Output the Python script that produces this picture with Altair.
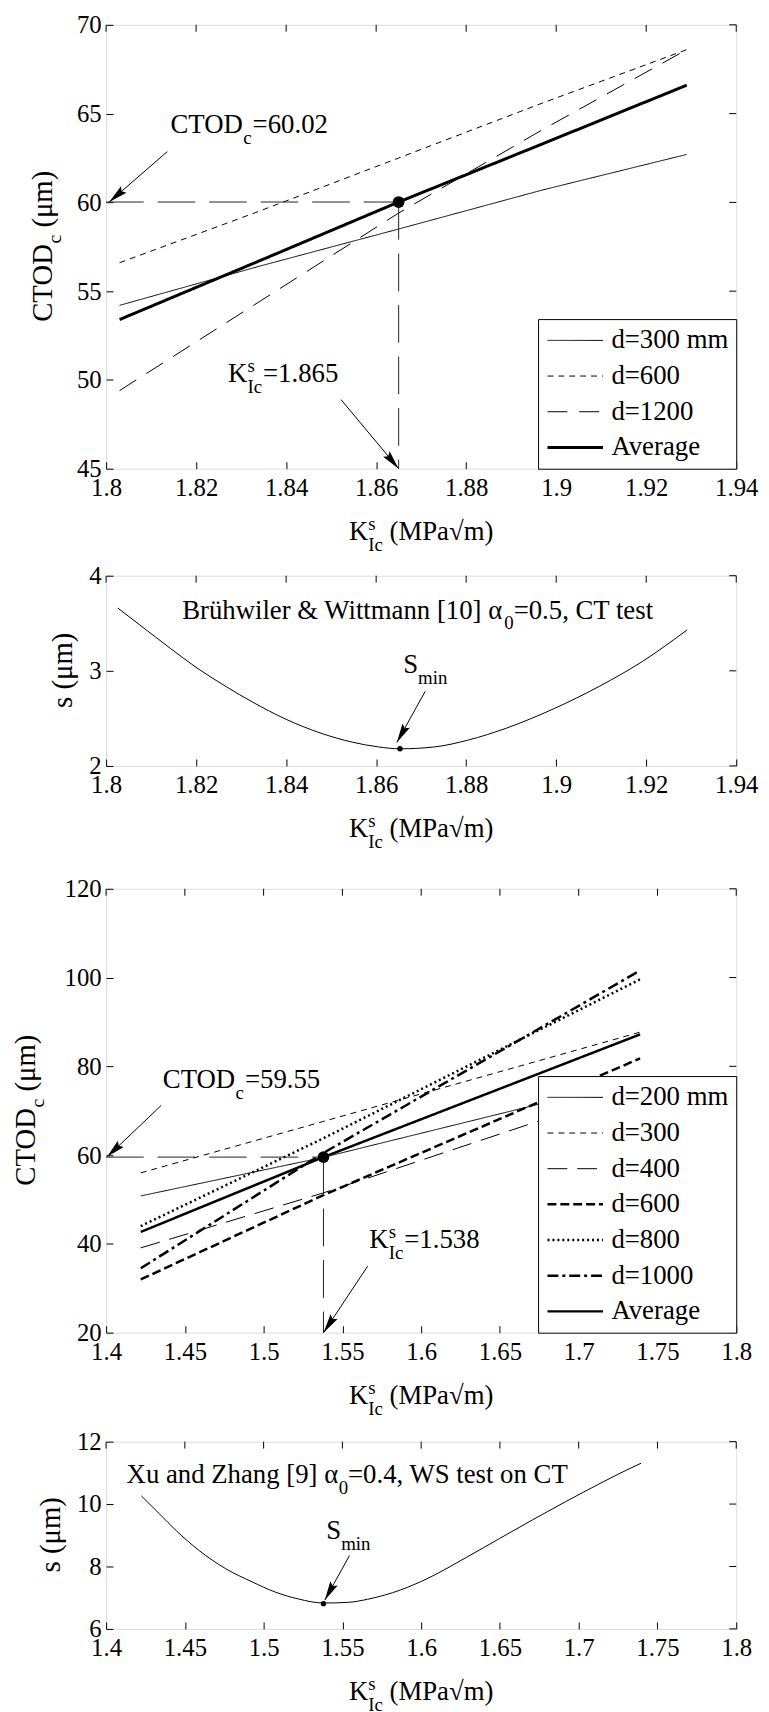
import math
import altair as alt
import pandas as pd

FONT = "Liberation Serif"
TICK_FS = 25
TXT_FS = 27
SUB_FS = 19
YT_FS = 29

W = 636
H1, H2, H3, H4 = 448, 192, 448, 189
LEFT, RIGHT, BOTTOM = 98, 24, 88
TOPS = [8, 18, 34, 20]

# ---------------- data ----------------
P1_XDOM = [1.8, 1.94]
P1_YDOM = [45, 70]
P1_XTICKS = [1.8, 1.82, 1.84, 1.86, 1.88, 1.9, 1.92, 1.94]
P1_YTICKS = [45, 50, 55, 60, 65, 70]
P1_K = [1.803, 1.834, 1.865, 1.897, 1.929]
P1_D300 = [54.2, 56.4, 58.5, 60.7, 62.7]
P1_D600 = [56.6, 59.5, 62.5, 65.6, 68.6]
P1_D1200 = [49.4, 54.4, 59.4, 64.1, 68.6]
P1_AVG = [53.4, 56.7, 60.02, 63.3, 66.6]
P1_SERIES = ["d=300 mm", "d=600", "d=1200", "Average"]
P1_KIC = 1.865
P1_CTODC = 60.02

P2_YDOM = [2, 4]
P2_YTICKS = [2, 3, 4]
P2_K = [1.8026, 1.8092, 1.8143, 1.8202, 1.8268, 1.8326, 1.8400, 1.8480, 1.8547,
        1.8605, 1.8653, 1.8730, 1.8803, 1.8891, 1.8994, 1.9097, 1.9192, 1.9291]
P2_S = [3.66, 3.42, 3.235, 3.03, 2.83, 2.67, 2.49, 2.34, 2.25,
        2.20, 2.18, 2.20, 2.27, 2.40, 2.60, 2.84, 3.10, 3.43]
P2_KMIN = 1.8653
P2_SMIN = 2.18

P3_XDOM = [1.4, 1.8]
P3_YDOM = [20, 120]
P3_XTICKS = [1.4, 1.45, 1.5, 1.55, 1.6, 1.65, 1.7, 1.75, 1.8]
P3_YTICKS = [20, 40, 60, 80, 100, 120]
P3_K = [1.422, 1.538, 1.739]
P3_D200 = [50.8, 59.5, 77.1]
P3_D300 = [56.0, 67.6, 87.7]
P3_D400 = [39.1, 51.5, 75.3]
P3_D600 = [32.0, 51.0, 81.8]
P3_D800 = [44.0, 63.8, 99.6]
P3_D1000 = [34.5, 60.5, 101.6]
P3_AVG = [42.7, 59.55, 87.2]
P3_SERIES = ["d=200 mm", "d=300", "d=400", "d=600", "d=800", "d=1000", "Average"]
P3_KIC = 1.538
P3_CTODC = 59.55

P4_YDOM = [6, 12]
P4_YTICKS = [6, 8, 10, 12]
P4_K = [1.4224, 1.434, 1.4445, 1.4591, 1.4759, 1.4926, 1.5074, 1.522, 1.538, 1.5535,
        1.566, 1.587, 1.6038, 1.629, 1.6499, 1.6709, 1.6918, 1.7128, 1.7296, 1.7396]
P4_S = [10.26, 9.68, 9.15, 8.51, 7.93, 7.51, 7.18, 6.96, 6.83, 6.85,
        6.95, 7.25, 7.61, 8.30, 8.90, 9.50, 10.08, 10.64, 11.07, 11.31]
P4_KMIN = 1.538
P4_SMIN = 6.81

# styles
P1_DASH = [[1, 0], [6, 5], [20, 12], [1, 0]]
P1_WIDTH = [1, 1, 1, 3]
P3_DASH = [[1, 0], [6, 5], [20, 10], [9, 4], [2, 3], [11, 4, 3, 4], [1, 0]]
P3_WIDTH = [1, 1, 1, 2.5, 2.5, 2.5, 2.5]
HELPER_DASH = [38, 14]
ARROW = "M0,0L-0.22,1L0,0.85L0.22,1Z"

ONE = pd.DataFrame({"one": [1]})

CW = {'A': .722, 'B': .667, 'C': .667, 'D': .722, 'I': .333, 'K': .722, 'M': .889, 'O': .722,
      'P': .556, 'S': .556, 'T': .611, 'W': .944, 'X': .722, 'Z': .611,
      'a': .444, 'c': .444, 'd': .5, 'e': .444, 'g': .5, 'h': .5, 'i': .278, 'l': .278,
      'm': .778, 'n': .5, 'o': .5, 'r': .333, 's': .389, 't': .278, 'u': .5, 'w': .722,
      ' ': .25, '.': .25, ',': .25, '=': .564, '(': .333, ')': .333, '[': .333, ']': .333,
      '&': .778, 'ü': .5, 'α': .54, 'μ': .5, '√': .549}


def tw(s, fs):
    return sum(CW.get(c, 0.5) for c in s) * fs


def x_axis(vals):
    return alt.Axis(values=vals, format="~r", title=None, grid=False, domain=False, offset=-7,
                    tickSize=7, tickWidth=1, tickColor="black", labelFont=FONT,
                    labelFontSize=TICK_FS, labelColor="black", labelPadding=7,
                    labelFlush=False, labelOverlap=False)


def y_axis(vals):
    return alt.Axis(values=vals, format="~r", title=None, grid=False, domain=False, offset=-7,
                    tickSize=7, tickWidth=1, tickColor="black", labelFont=FONT,
                    labelFontSize=TICK_FS, labelColor="black", labelPadding=5,
                    labelFlush=False, labelOverlap=False)


def texts(pieces, x, y, angle=None):
    out = []
    for txt, dx, dy, fs in pieces:
        kw = dict(text=txt, align="left", baseline="alphabetic", dx=dx, dy=dy,
                  fontSize=fs, font=FONT, color="black")
        if angle is not None:
            kw["angle"] = angle
        out.append(alt.Chart(ONE).mark_text(**kw).encode(x=x, y=y))
    return out


def arrow(x0, y0, x1, y1, xdom, ydom, h):
    dxp = (x1 - x0) / (xdom[1] - xdom[0]) * W
    dyp = -(y1 - y0) / (ydom[1] - ydom[0]) * h
    ang = math.degrees(math.atan2(dxp, -dyp)) % 360
    shaft = alt.Chart(ONE).mark_rule(color="black", strokeWidth=1).encode(
        x=alt.datum(x0), y=alt.datum(y0), x2=alt.datum(x1), y2=alt.datum(y1))
    head = alt.Chart(ONE).mark_point(shape=ARROW, filled=True, color="black", opacity=1,
                                     size=1500, angle=round(ang, 2), strokeWidth=0).encode(
        x=alt.datum(x1), y=alt.datum(y1))
    return [shaft, head]


def frame(h, top):
    return alt.Chart(ONE).mark_rect(opacity=0).encode(
        x=alt.value(-LEFT), x2=alt.value(W + RIGHT), y=alt.value(-top), y2=alt.value(h + BOTTOM))


def box_ticks(xfield, yfield, xticks, yticks):
    t = alt.Chart(pd.DataFrame({xfield: xticks})).mark_rule(color="black", strokeWidth=1).encode(
        x=alt.X(f"{xfield}:Q", axis=x_axis(xticks)), y=alt.value(0), y2=alt.value(7))
    r = alt.Chart(pd.DataFrame({yfield: yticks})).mark_rule(color="black", strokeWidth=1).encode(
        y=alt.Y(f"{yfield}:Q", axis=y_axis(yticks)), x=alt.value(W - 7), x2=alt.value(W))
    return [t, r]


def x_title(h):
    wk = tw("K", TXT_FS)
    wi = tw("Ic", SUB_FS)
    sp = tw(" ", TXT_FS)
    rest = "(MPa√m)"
    total = wk + wi + sp + tw(rest, TXT_FS)
    pieces = [("K", 0, 0, TXT_FS), ("s", wk, -10, SUB_FS), ("Ic", wk, 11, SUB_FS),
              (rest, wk + wi + sp, 0, TXT_FS)]
    return texts(pieces, alt.value(W / 2 - total / 2), alt.value(h + 72))


def y_title_ctod(h, xpos):
    w1 = tw("CTOD", YT_FS)
    wc = tw("c", 20)
    sp = tw(" ", YT_FS)
    rest = "(μm)"
    total = w1 + wc + sp + tw(rest, YT_FS)
    pieces = [("CTOD", 0, 0, YT_FS), ("c", w1, 9, 20), (rest, w1 + wc + sp, 0, YT_FS)]
    return texts(pieces, alt.value(xpos), alt.value(h / 2 + total / 2), angle=270)


def y_title_s(h, xpos):
    s = "s (μm)"
    total = tw(s, YT_FS)
    return texts([(s, 0, 0, YT_FS)], alt.value(xpos), alt.value(h / 2 + total / 2), angle=270)


def k_label(value_text, x, y):
    wk = tw("K", TXT_FS)
    wi = tw("Ic", SUB_FS)
    pieces = [("K", 0, 0, TXT_FS), ("s", wk, -10, SUB_FS), ("Ic", wk, 11, SUB_FS),
              (value_text, wk + wi + 1, 0, TXT_FS)]
    return texts(pieces, alt.datum(x), alt.datum(y))


def ctod_label(value_text, x, y):
    w1 = tw("CTOD", TXT_FS)
    wc = tw("c", SUB_FS)
    pieces = [("CTOD", 0, 0, TXT_FS), ("c", w1, 11, SUB_FS), (value_text, w1 + wc + 1, 0, TXT_FS)]
    return texts(pieces, alt.datum(x), alt.datum(y))


def smin_label(x, y):
    ws = tw("S", TXT_FS)
    return texts([("S", 0, 0, TXT_FS), ("min", ws, 11, SUB_FS)], alt.datum(x), alt.datum(y))


def alpha_label(first, sub, rest, x, y):
    w = tw(first, TXT_FS)
    pieces = [(first, 0, 0, TXT_FS), (sub, w, 11, SUB_FS), (rest, w + tw(sub, SUB_FS), 0, TXT_FS)]
    return texts(pieces, alt.datum(x), alt.datum(y))


def legend():
    return alt.Legend(title=None, orient="bottom-right", offset=0, symbolType="stroke",
                      symbolSize=56 * 56, symbolStrokeColor="black", labelFont=FONT,
                      labelFontSize=TXT_FS, labelColor="black", labelOffset=7, padding=8,
                      rowPadding=8, clipHeight=27, strokeColor="black", fillColor="white",
                      cornerRadius=0, labelLimit=0)


def long_df(k, names, series):
    rows = []
    for name, vals in zip(names, series):
        for kk, vv in zip(k, vals):
            rows.append({"k": kk, "v": vv, "series": name})
    return pd.DataFrame(rows)


def ctod_panel(h, top, xdom, ydom, xticks, yticks, k, names, series, dashes, widths,
               kic, ctodc, ytitle_x, ctod_txt, ctod_pos, ctod_arrow, k_txt, k_pos, k_arrow):
    df = long_df(k, names, series)
    lines = alt.Chart(df).mark_line(color="black", strokeCap="butt").encode(
        x=alt.X("k:Q", scale=alt.Scale(domain=xdom, nice=False, zero=False), axis=x_axis(xticks)),
        y=alt.Y("v:Q", scale=alt.Scale(domain=ydom, nice=False, zero=False), axis=y_axis(yticks)),
        strokeDash=alt.StrokeDash("series:N", scale=alt.Scale(domain=names, range=dashes),
                                  legend=legend()),
        strokeWidth=alt.StrokeWidth("series:N",
                                    scale=alt.Scale(type="ordinal", domain=names, range=widths),
                                    legend=legend()),
    )
    hline = alt.Chart(ONE).mark_rule(color="#222", strokeWidth=1, strokeDash=HELPER_DASH).encode(
        x=alt.datum(xdom[0]), x2=alt.datum(kic), y=alt.datum(ctodc))
    vline = alt.Chart(ONE).mark_rule(color="#222", strokeWidth=1, strokeDash=HELPER_DASH).encode(
        x=alt.datum(kic), y=alt.datum(ctodc), y2=alt.datum(ydom[0]))
    dot = alt.Chart(ONE).mark_circle(size=140, color="black", opacity=1).encode(
        x=alt.datum(kic), y=alt.datum(ctodc))
    layers = [frame(h, top), lines, hline, vline, dot]
    layers += box_ticks("k", "v", xticks, yticks)
    layers += arrow(*ctod_arrow, xdom, ydom, h)
    layers += arrow(*k_arrow, xdom, ydom, h)
    layers += ctod_label(ctod_txt, *ctod_pos)
    layers += k_label(k_txt, *k_pos)
    layers += x_title(h)
    layers += y_title_ctod(h, ytitle_x)
    return alt.layer(*layers).properties(width=W, height=h)


def s_panel(h, top, xdom, ydom, xticks, yticks, k, s, kmin, smin, ytitle_x,
            alpha_parts, alpha_pos, s_pos, s_arrow):
    df = pd.DataFrame({"k": k, "s": s})
    curve = alt.Chart(df).mark_line(color="black", strokeWidth=1, interpolate="monotone").encode(
        x=alt.X("k:Q", scale=alt.Scale(domain=xdom, nice=False, zero=False), axis=x_axis(xticks)),
        y=alt.Y("s:Q", scale=alt.Scale(domain=ydom, nice=False, zero=False), axis=y_axis(yticks)),
    )
    dot = alt.Chart(ONE).mark_circle(size=30, color="black", opacity=1).encode(
        x=alt.datum(kmin), y=alt.datum(smin))
    layers = [frame(h, top), curve, dot]
    layers += box_ticks("k", "s", xticks, yticks)
    layers += arrow(*s_arrow, xdom, ydom, h)
    layers += alpha_label(*alpha_parts, *alpha_pos)
    layers += smin_label(*s_pos)
    layers += x_title(h)
    layers += y_title_s(h, ytitle_x)
    return alt.layer(*layers).properties(width=W, height=h)


p1 = ctod_panel(
    H1, TOPS[0], P1_XDOM, P1_YDOM, P1_XTICKS, P1_YTICKS, P1_K, P1_SERIES,
    [P1_D300, P1_D600, P1_D1200, P1_AVG], P1_DASH, P1_WIDTH, P1_KIC, P1_CTODC, -55,
    "=60.02", (1.8143, 63.92), (1.8136, 62.86, 1.8007, P1_CTODC),
    "=1.865", (1.8271, 49.87), (1.8522, 48.89, P1_KIC, 45.0))

p2 = s_panel(
    H2, TOPS[1], P1_XDOM, P2_YDOM, P1_XTICKS, P2_YTICKS, P2_K, P2_S, P2_KMIN, P2_SMIN, -34,
    ("Brühwiler & Wittmann [10] α", "0", "=0.5, CT test"), (1.8169, 3.549),
    (1.8660, 2.976), (1.8709, 2.784, 1.8646, 2.247))

p3 = ctod_panel(
    H3, TOPS[2], P3_XDOM, P3_YDOM, P3_XTICKS, P3_YTICKS, P3_K, P3_SERIES,
    [P3_D200, P3_D300, P3_D400, P3_D600, P3_D800, P3_D1000, P3_AVG], P3_DASH, P3_WIDTH,
    P3_KIC, P3_CTODC, -72,
    "=59.55", (1.436, 75.1), (1.435, 71.2, 1.4005, P3_CTODC),
    "=1.538", (1.5671, 39.04), (1.566, 34.96, P3_KIC, 20.0))

p4 = s_panel(
    H4, TOPS[3], P3_XDOM, P4_YDOM, P3_XTICKS, P4_YTICKS, P4_K, P4_S, P4_KMIN, P4_SMIN, -47,
    ("Xu and Zhang [9] α", "0", "=0.4, WS test on CT"), (1.413, 10.68),
    (1.5398, 8.879), (1.5545, 8.35, 1.5388, 6.92))

chart = alt.vconcat(p1, p2, p3, p4, spacing=0).resolve_scale(
    strokeDash="independent", strokeWidth="independent"
).properties(
    padding={"left": 0, "top": -4, "right": 0, "bottom": 0}, background="white"
).configure_view(stroke="black", strokeWidth=1.5).configure(font=FONT)

chart.save("out.html", embed_options={"renderer": "svg", "actions": False})
